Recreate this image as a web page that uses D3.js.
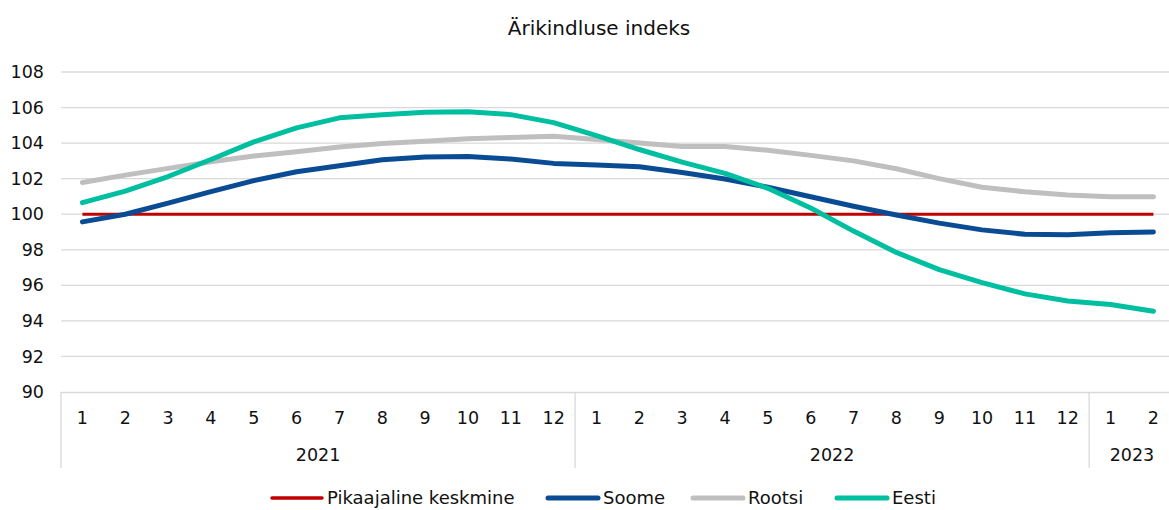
<!DOCTYPE html>
<html><head><meta charset="utf-8">
<script src="https://cdn.jsdelivr.net/npm/d3@7"></script>
<style>
body{margin:0;background:#fff;}
svg{display:block;font-family:"DejaVu Sans",sans-serif;}
</style></head><body>
<svg id="c" width="1169" height="510"></svg>
<script>
const title = "Ärikindluse indeks";
const years = ["2021","2022","2023"];
const months = ["1","2","3","4","5","6","7","8","9","10","11","12","1","2","3","4","5","6","7","8","9","10","11","12","1","2"];
const monthYear = [0,0,0,0,0,0,0,0,0,0,0,0,1,1,1,1,1,1,1,1,1,1,1,1,2,2];
const yTicks = [90,92,94,96,98,100,102,104,106,108];
const seriesNames = ["Pikaajaline keskmine","Soome","Rootsi","Eesti"];
const pikaajaline = [100,100,100,100,100,100,100,100,100,100,100,100,100,100,100,100,100,100,100,100,100,100,100,100,100,100];
const soome = [99.57,100.0,100.62,101.27,101.89,102.39,102.73,103.06,103.22,103.25,103.1,102.86,102.77,102.67,102.35,101.98,101.52,100.98,100.45,99.96,99.5,99.12,98.87,98.85,98.96,99.0];
const rootsi = [101.78,102.2,102.58,102.95,103.27,103.52,103.78,103.98,104.11,104.25,104.32,104.38,104.2,104.0,103.81,103.81,103.6,103.31,103.0,102.56,102.0,101.52,101.26,101.08,100.98,100.98];
const eesti = [100.65,101.3,102.12,103.08,104.07,104.86,105.42,105.6,105.74,105.76,105.6,105.15,104.42,103.64,102.93,102.3,101.46,100.35,99.05,97.85,96.88,96.15,95.52,95.12,94.92,94.54];
const colors = ["#C00000","#0A4C94","#BFBFBF","#00BFA0"];

const svg = d3.select("#c");
const left = 61, bandW = 42.84, n = months.length;
const x = d3.scaleBand().domain(d3.range(n)).range([left, left + bandW*n]).paddingInner(0).paddingOuter(0);
const y = d3.scaleLinear().domain([90,108]).range([392,72]);
const cx = i => x(i) + x.bandwidth()/2;
const fs = 17.5;

svg.append("text").attr("x",599).attr("y",28).attr("dy","0.35em").attr("text-anchor","middle")
  .attr("font-size",20).attr("fill","#111").text(title);

// grid
svg.append("g").selectAll("line").data(yTicks.filter(t=>t>90)).join("line")
  .attr("x1",left).attr("x2",1169).attr("y1",d=>y(d)).attr("y2",d=>y(d))
  .attr("stroke","#D9D9D9").attr("stroke-width",1.3);

// y labels
svg.append("g").selectAll("text").data(yTicks).join("text")
  .attr("x",44).attr("y",d=>y(d)).attr("dy","0.35em").attr("text-anchor","end")
  .attr("font-size",fs).attr("fill","#111").text(d=>d);

// category axis box
const ax = svg.append("g");
ax.append("line").attr("x1",left).attr("x2",1169).attr("y1",392.5).attr("y2",392.5).attr("stroke","#D9D9D9").attr("stroke-width",1.3);
const sepIdx = [0,12,24];
ax.selectAll("line.sep").data(sepIdx).join("line").attr("class","sep")
  .attr("x1",d=>x(d)).attr("x2",d=>x(d)).attr("y1",392).attr("y2",468)
  .attr("stroke","#D9D9D9").attr("stroke-width",1.3);
ax.selectAll("text.m").data(months).join("text").attr("class","m")
  .attr("x",(d,i)=>cx(i)).attr("y",418).attr("dy","0.35em").attr("text-anchor","middle")
  .attr("font-size",fs).attr("fill","#111").text(d=>d);
const yearCenters = years.map((yr,k)=>{
  const idx = d3.range(n).filter(i=>monthYear[i]===k);
  return (x(idx[0]) + x(idx[idx.length-1]) + bandW)/2;
});
ax.selectAll("text.yr").data(years).join("text").attr("class","yr")
  .attr("x",(d,k)=>yearCenters[k]).attr("y",455).attr("dy","0.35em").attr("text-anchor","middle")
  .attr("font-size",fs).attr("fill","#111").text(d=>d);

// lines
const line = d3.line().x((d,i)=>cx(i)).y(d=>y(d));
const data = [pikaajaline, soome, rootsi, eesti];
const widths = [3,5,5,5];
const order = [0,2,1,3];
order.forEach(k=>{
  svg.append("path").datum(data[k]).attr("d",line).attr("fill","none")
    .attr("stroke",colors[k]).attr("stroke-width",widths[k])
    .attr("stroke-linecap", k===0 ? "butt" : "round").attr("stroke-linejoin","round");
});

// legend
const legX = [272,548,693,837];
const lg = svg.append("g");
seriesNames.forEach((nm,k)=>{
  lg.append("line").attr("x1",legX[k]).attr("x2",legX[k]+50).attr("y1",498).attr("y2",498)
    .attr("stroke",colors[k]).attr("stroke-width",k===0?3.5:5).attr("stroke-linecap","round");
  lg.append("text").attr("x",legX[k]+55).attr("y",498).attr("dy","0.35em")
    .attr("font-size",18).attr("fill","#111").text(nm);
});
</script></body></html>
